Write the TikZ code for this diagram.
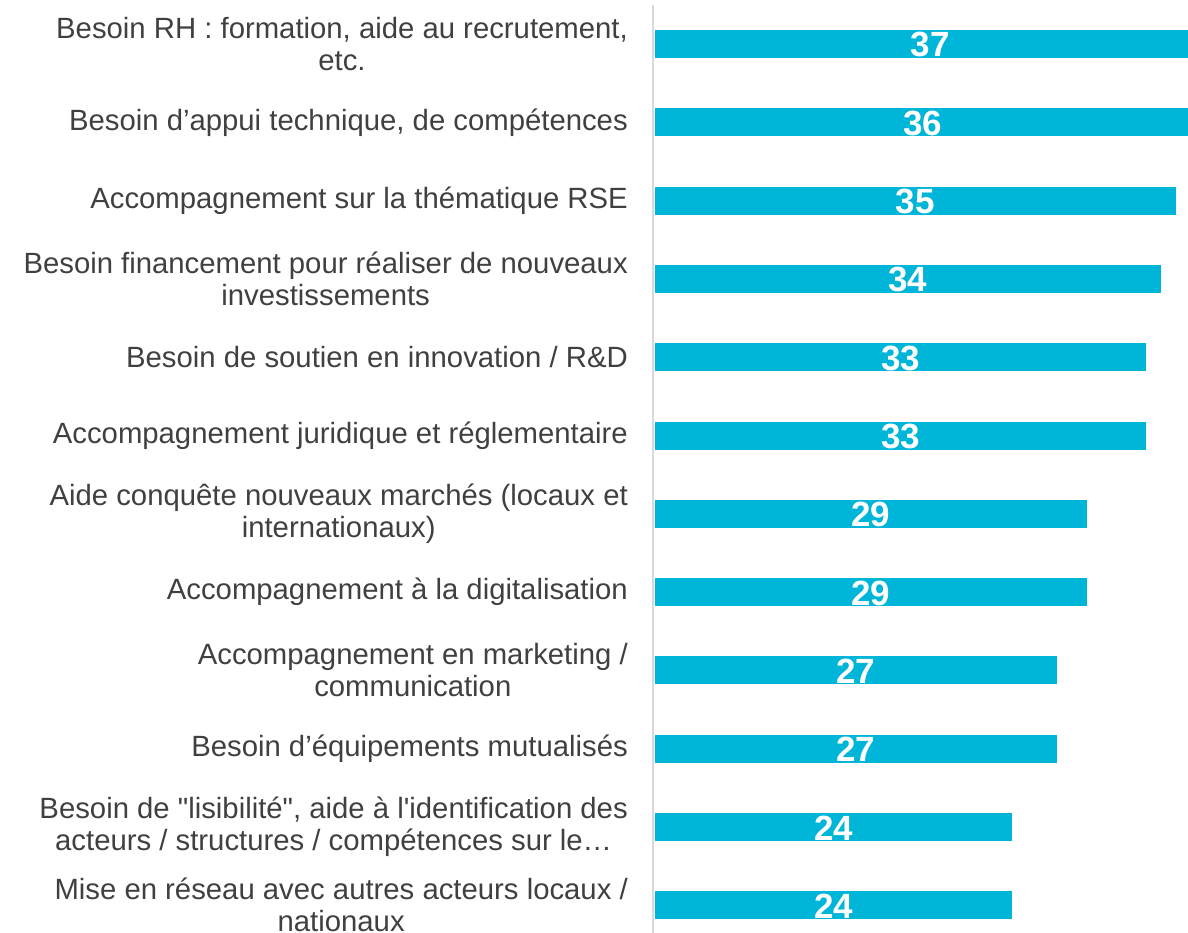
\documentclass[tikz,border=0pt]{standalone}
\usepackage{fontspec}
\setmainfont{Liberation Sans}
\usetikzlibrary{positioning}

\definecolor{barblue}{RGB}{0,182,216}
\definecolor{labelgray}{RGB}{64,64,64}
\definecolor{axisgray}{RGB}{217,217,217}

\tikzset{
  bar/.style={fill=barblue, inner sep=0pt, outer sep=0pt, minimum height=28pt, anchor=north west},
  value/.style={text=white, font=\fontsize{35}{35}\selectfont\bfseries, inner sep=0pt, anchor=base},
  category/.style={text=labelgray, font=\fontsize{29.3}{32}\selectfont, align=center, inner sep=0pt, node distance=27pt}
}

\begin{document}
\begin{tikzpicture}[x=1pt,y=-1pt]
  \useasboundingbox (0,0) rectangle (1188,933);
  \coordinate (axtop) at (653,5);
  \coordinate (axbot) at (653,933);
  \draw[axisgray, line width=2pt] (axtop) -- (axbot);
  \foreach \val/\txt [count=\i] in {
      37/{Besoin RH : formation, aide au recrutement,\\etc.},
      36/{Besoin d’appui technique, de compétences},
      35/{Accompagnement sur la thématique RSE},
      34/{Besoin financement pour réaliser de nouveaux\hspace{8pt}\\investissements},
      33/{Besoin de soutien en innovation / R\&D},
      33/{Accompagnement juridique et réglementaire},
      29/{Aide conquête nouveaux marchés (locaux et\\internationaux)},
      29/{Accompagnement à la digitalisation},
      27/{Accompagnement en marketing /\\communication},
      27/{Besoin d’équipements mutualisés},
      24/{Besoin de \textquotedbl lisibilité\textquotedbl, aide à l\textquotesingle identification des\\acteurs / structures / compétences sur le…},
      24/{Mise en réseau avec autres acteurs locaux /\\nationaux}}{
    \pgfmathsetmacro\ytop{30+78.3*(\i-1)}
    \pgfmathsetmacro\ybot{\ytop+27}
    \pgfmathsetmacro\len{min(14.88*\val,533)}
    \pgfmathsetmacro\xmid{655+7.44*\val}
    \node[bar, minimum width=\len pt] (b\i) at (655,\ytop) {};
    \node[value] (v\i) at (\xmid,\ybot) {\val};
    \node[category, left=of b\i] (c\i) {\txt};
  }
\end{tikzpicture}
\end{document}
